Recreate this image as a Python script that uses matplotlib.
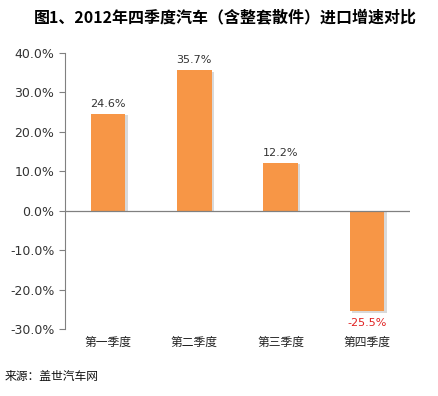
import matplotlib.pyplot as plt
import numpy as np

plt.rcParams['font.family'] = ['Noto Sans CJK SC', 'DejaVu Sans']

# Data
quarters = ['第一季度', '第二季度', '第三季度', '第四季度']
growth = [24.6, 35.7, 12.2, -25.5]
yticks = [-30, -20, -10, 0, 10, 20, 30, 40]

fig = plt.figure(figsize=(4.38, 3.96), dpi=100)
ax = fig.add_axes([0.148, 0.169, 0.788, 0.697])

x = np.arange(len(quarters))
# soft shadow behind bars
ax.bar(x + 0.03, [v - 0.4 if v > 0 else v - 0.4 for v in growth], width=0.4,
       color='#d9d9d9', zorder=1)
ax.bar(x, growth, width=0.4, color='#F79646', zorder=2)

for xi, v in zip(x, growth):
    if v >= 0:
        ax.text(xi, v + 1.2, f'{v:.1f}%', ha='center', va='bottom',
                fontsize=8, color='#333333', family='DejaVu Sans')
    else:
        ax.text(xi, v - 1.8, f'{v:.1f}%', ha='center', va='top',
                fontsize=8, color='#e02020', family='DejaVu Sans')

ax.set_xlim(-0.5, 3.5)
ax.set_ylim(-30, 40)
ax.set_yticks(yticks)
ax.set_yticklabels([f'{t:.1f}%' for t in yticks], family='DejaVu Sans',
                   fontsize=9, color='#333333')
ax.set_xticks([])
ax.axhline(0, color='#808080', lw=0.9, zorder=3)

for s in ['top', 'right', 'bottom']:
    ax.spines[s].set_visible(False)
ax.spines['left'].set_color('#808080')
ax.tick_params(axis='y', length=4, color='#808080', direction='out')

for xi, q in zip(x, quarters):
    ax.text(xi, -33.5, q, ha='center', va='center', fontsize=8.5,
            color='#222222')

fig.text(0.515, 0.957, '图1、2012年四季度汽车（含整套散件）进口增速对比',
         ha='center', va='center', fontsize=11.5, fontweight='bold')
fig.text(0.01, 0.048, '来源：盖世汽车网', ha='left', va='center',
         fontsize=8.5, color='#111111')

fig.savefig('out.png', dpi=100)
